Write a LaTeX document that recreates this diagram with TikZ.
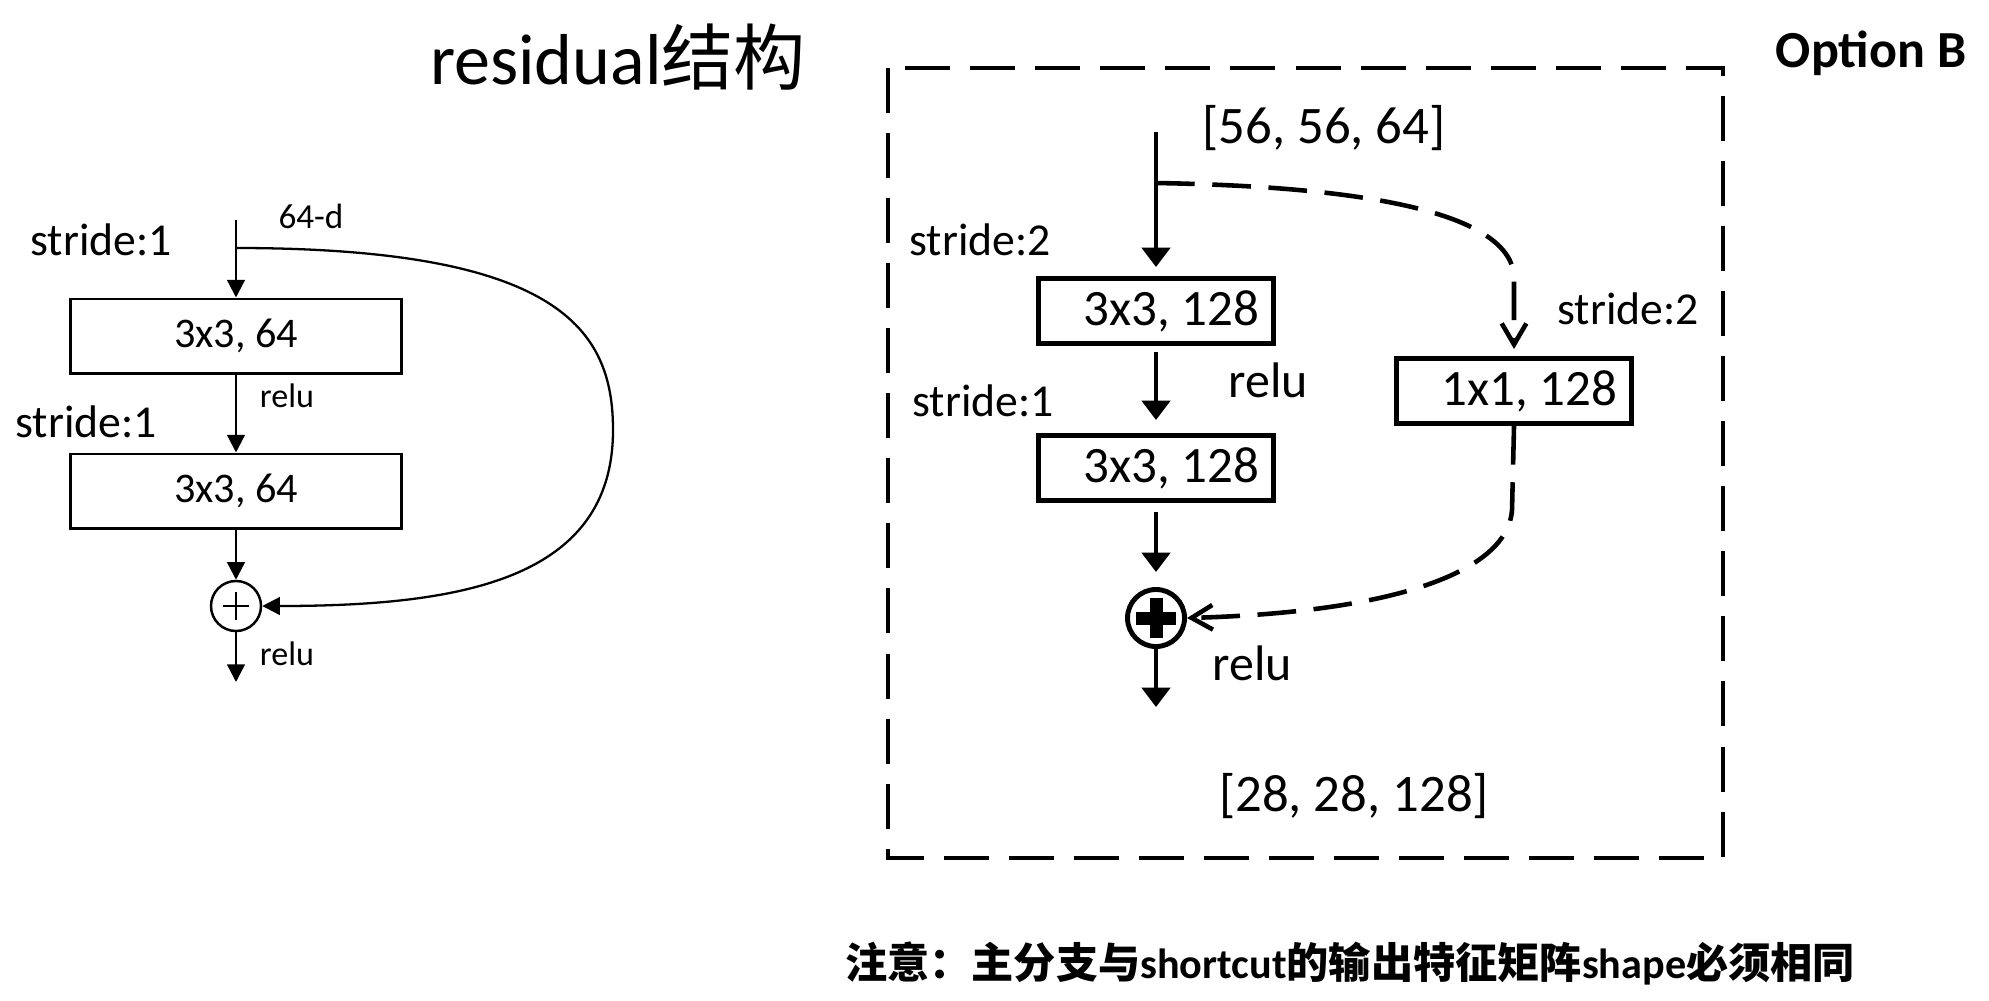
\documentclass[tikz,border=0pt]{standalone}
\usepackage{fontspec}
\setmainfont{Carlito}
\newfontfamily\cjk{Noto Sans CJK SC}
\usetikzlibrary{arrows.meta}
\newcommand{\setfs}[1]{\fontsize{#1}{#1}\selectfont}
\tikzset{
  lbl/.style={inner sep=0pt, anchor=center},
  boxL/.style={draw, line width=0.7pt, minimum width=3.31cm, minimum height=0.745cm, inner sep=0pt, font=\setfs{12pt}},
  boxR/.style={draw, line width=1.4pt, minimum width=2.35cm, minimum height=0.65cm, inner sep=0pt, font=\setfs{14.5pt}, execute at begin node=\hspace{3mm}},
  addL/.style={circle, draw, line width=0.7pt, minimum size=0.5cm, inner sep=0pt,
    path picture={\draw[line width=0.6pt] (path picture bounding box.center) +(-0.13cm,0) -- +(0.13cm,0)
      (path picture bounding box.center) +(0,-0.14cm) -- +(0,0.14cm);}},
  addR/.style={circle, draw, line width=1.4pt, minimum size=0.57cm, inner sep=0pt,
    path picture={\draw[line width=3.7pt] (path picture bounding box.center) +(-0.2cm,0) -- +(0.2cm,0)
      (path picture bounding box.center) +(0,-0.2cm) -- +(0,0.2cm);}},
  arrL/.style={line width=0.65pt, -{Triangle[length=5pt,width=5pt]}},
  arrR/.style={line width=1.2pt, -{Triangle[length=5.5pt,width=8pt]}},
  dashR/.style={line width=1.3pt, dash pattern=on 11pt off 5pt, -{Straight Barb[length=6pt,width=7pt]}},
  frameB/.style={line width=1.4pt, dash pattern=on 12.8pt off 5.7pt}
}
\begin{document}
\begin{tikzpicture}[x=0.01cm, y=-0.01cm]
\fill[white] (0,0) rectangle (1989,1000);
\useasboundingbox (0,0) rectangle (1989,1000);

\node[lbl, font=\setfs{20.5pt}] (title) at (618,57) {residual{\cjk 结构}};
\node[lbl, font=\bfseries\setfs{14.8pt}] (optB) at (1871,53) {Option B};

% plain block
\coordinate (inL) at (236,220);
\coordinate (splitL) at (236,248);
\coordinate (outL) at (236,682);
\node[lbl, font=\setfs{10pt}] (dimL) at (311,216) {64-d};
\node[lbl, font=\setfs{13pt}] (strideL1) at (101,240) {stride:1};
\node[boxL] (boxL1) at (236,336) {3x3, 64};
\node[lbl, font=\setfs{9.7pt}] (reluL1) at (287,396) {relu};
\node[lbl, font=\setfs{13pt}] (strideL2) at (86,422) {stride:1};
\node[boxL] (boxL2) at (236,491) {3x3, 64};
\node[addL] (addL) at (236,606) {};
\node[lbl, font=\setfs{9.7pt}] (reluL2) at (287,654) {relu};
\draw[arrL] (inL) -- (boxL1.north);
\draw[arrL] (boxL1.south) -- (boxL2.north);
\draw[arrL] (boxL2.south) -- (addL.north);
\draw[arrL] (addL.south) -- (outL);
\draw[arrL] (splitL) .. controls (560,248) and (613,330) .. (613,430)
  .. controls (613,580) and (460,606) .. (addL.east);

% option B block
\draw[frameB] (888,68) rectangle (1723,858);
\coordinate (inR) at (1156,132);
\coordinate (splitR) at (1156,183);
\coordinate (outR) at (1156,707);
\node[lbl, font=\setfs{15pt}] (inShape) at (1324,128) {[56, 56, 64]};
\node[lbl, font=\setfs{13pt}] (strideA) at (980,240) {stride:2};
\node[boxR] (convA) at (1156,311) {3x3, 128};
\node[lbl, font=\setfs{14.2pt}] (reluA) at (1268,380) {relu};
\node[lbl, font=\setfs{13pt}] (strideB) at (983,401) {stride:1};
\node[boxR] (convB) at (1156,468) {3x3, 128};
\node[addR] (addR) at (1156,618) {};
\node[lbl, font=\setfs{14.2pt}] (reluB) at (1252,663) {relu};
\node[lbl, font=\setfs{15pt}] (outShape) at (1354,796) {[28, 28, 128]};
\node[lbl, font=\setfs{13pt}] (strideS) at (1628,309) {stride:2};
\node[boxR] (convS) at (1514,391) {1x1, 128};
\draw[arrR, shorten >=0.9mm] (inR) -- (convA.north);
\draw[arrR, shorten <=0.6mm, shorten >=1.3mm] (convA.south) -- (convB.north);
\draw[arrR, shorten <=0.9mm, shorten >=1.5mm] (convB.south) -- (addR.north);
\draw[arrR] (addR.south) -- (outR);
\draw[dashR, shorten >=0.7mm] (splitR) .. controls (1330,186) and (1507,205) .. (1514,275) -- (convS.north);
\draw[dashR] (convS.south) -- (1512,510) .. controls (1508,570) and (1400,612) .. (addR.east);

\node[lbl, font=\bfseries\setfs{12pt}] (note) at (1350,963)
  {{\cjk 注意：主分支与}shortcut{\cjk 的输出特征矩阵}shape{\cjk 必须相同}};
\end{tikzpicture}
\end{document}
